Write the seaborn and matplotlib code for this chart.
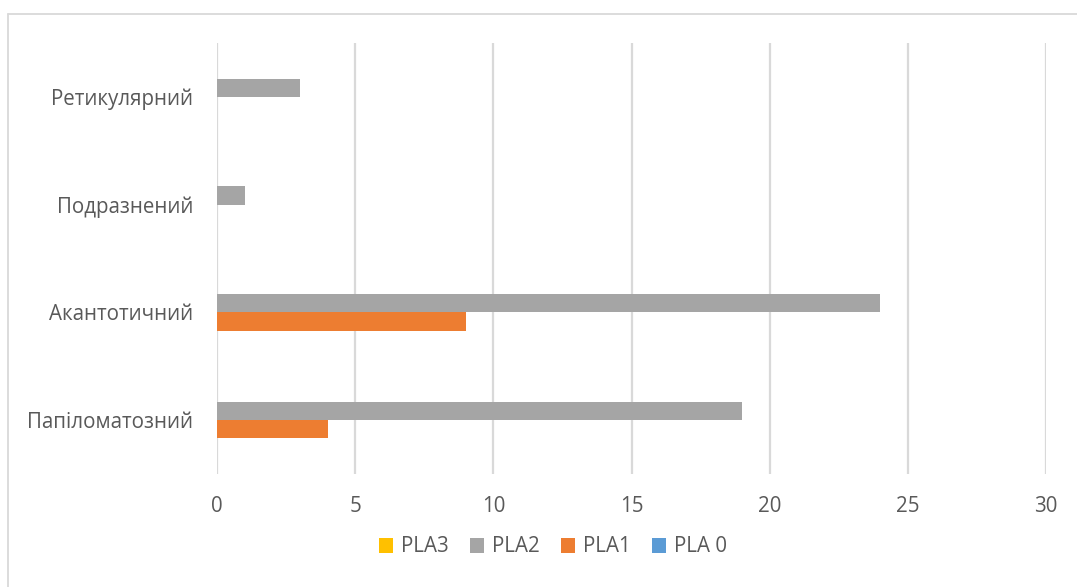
import matplotlib
matplotlib.use("Agg")
import matplotlib.pyplot as plt
from matplotlib.lines import Line2D
from matplotlib.patches import Patch
import pandas as pd
import seaborn as sns

# Categories listed top to bottom as they appear on the y axis
categories = ["Ретикулярний", "Подразнений", "Акантотичний", "Папіломатозний"]
series_names = ["PLA3", "PLA2", "PLA1", "PLA 0"]
pla3 = [0, 0, 0, 0]
pla2 = [3, 1, 24, 19]
pla1 = [0, 0, 9, 4]
pla0 = [0, 0, 0, 0]
x_ticks = [0, 5, 10, 15, 20, 25, 30]

colors = {"PLA3": "#FFC000", "PLA2": "#A5A5A5", "PLA1": "#ED7D31", "PLA 0": "#5B9BD5"}
text_color = "#595959"
grid_color = "#D9D9D9"

rows = []
for name, vals in zip(series_names, [pla3, pla2, pla1, pla0]):
    for cat, v in zip(categories, vals):
        rows.append({"category": cat, "series": name, "value": v})
df = pd.DataFrame(rows)

sns.set_theme(style="white")
plt.rcParams["font.family"] = ["Open Sans", "DejaVu Sans"]

fig = plt.figure(figsize=(10.77, 5.87), dpi=100)
ax = fig.add_axes([217 / 1077, 1 - 474 / 587, (1046 - 217) / 1077, (474 - 43) / 587])

sns.barplot(
    data=df, y="category", x="value", hue="series",
    order=categories, hue_order=series_names, palette=colors,
    orient="h", width=0.68, linewidth=0, errorbar=None, legend=False, ax=ax,
    saturation=1,
)

ax.set_xlim(0, 30)
ax.set_ylim(3.5, -0.5)
ax.set_xticks(x_ticks)
ax.set_xticklabels([str(t) for t in x_ticks])
ax.set_xlabel("")
ax.set_ylabel("")
ax.xaxis.grid(True, color=grid_color, linewidth=1.6)
ax.yaxis.grid(False)
ax.set_axisbelow(True)
for s in ax.spines.values():
    s.set_visible(False)
ax.tick_params(axis="both", length=0, labelsize=14.8, colors=text_color)
ax.tick_params(axis="y", pad=17)
ax.tick_params(axis="x", pad=16)

# Legend along the bottom
handles = [Patch(facecolor=colors[n], edgecolor="none") for n in series_names]
fig.legend(
    handles, series_names, loc="center", bbox_to_anchor=(553 / 1077, 1 - 547 / 587),
    ncol=4, frameon=False, fontsize=14.8, labelcolor=text_color,
    handlelength=0.7, handleheight=0.7, handletextpad=0.4, columnspacing=1.0,
)

# Light chart-area border
fig.add_artist(Line2D([8 / 1077, 1.0], [1 - 14 / 587, 1 - 14 / 587],
                      transform=fig.transFigure, color=grid_color, linewidth=1.3))
fig.add_artist(Line2D([8 / 1077, 8 / 1077], [0.0, 1 - 14 / 587],
                      transform=fig.transFigure, color=grid_color, linewidth=1.3))

fig.savefig("out.png", dpi=100, facecolor="white")
